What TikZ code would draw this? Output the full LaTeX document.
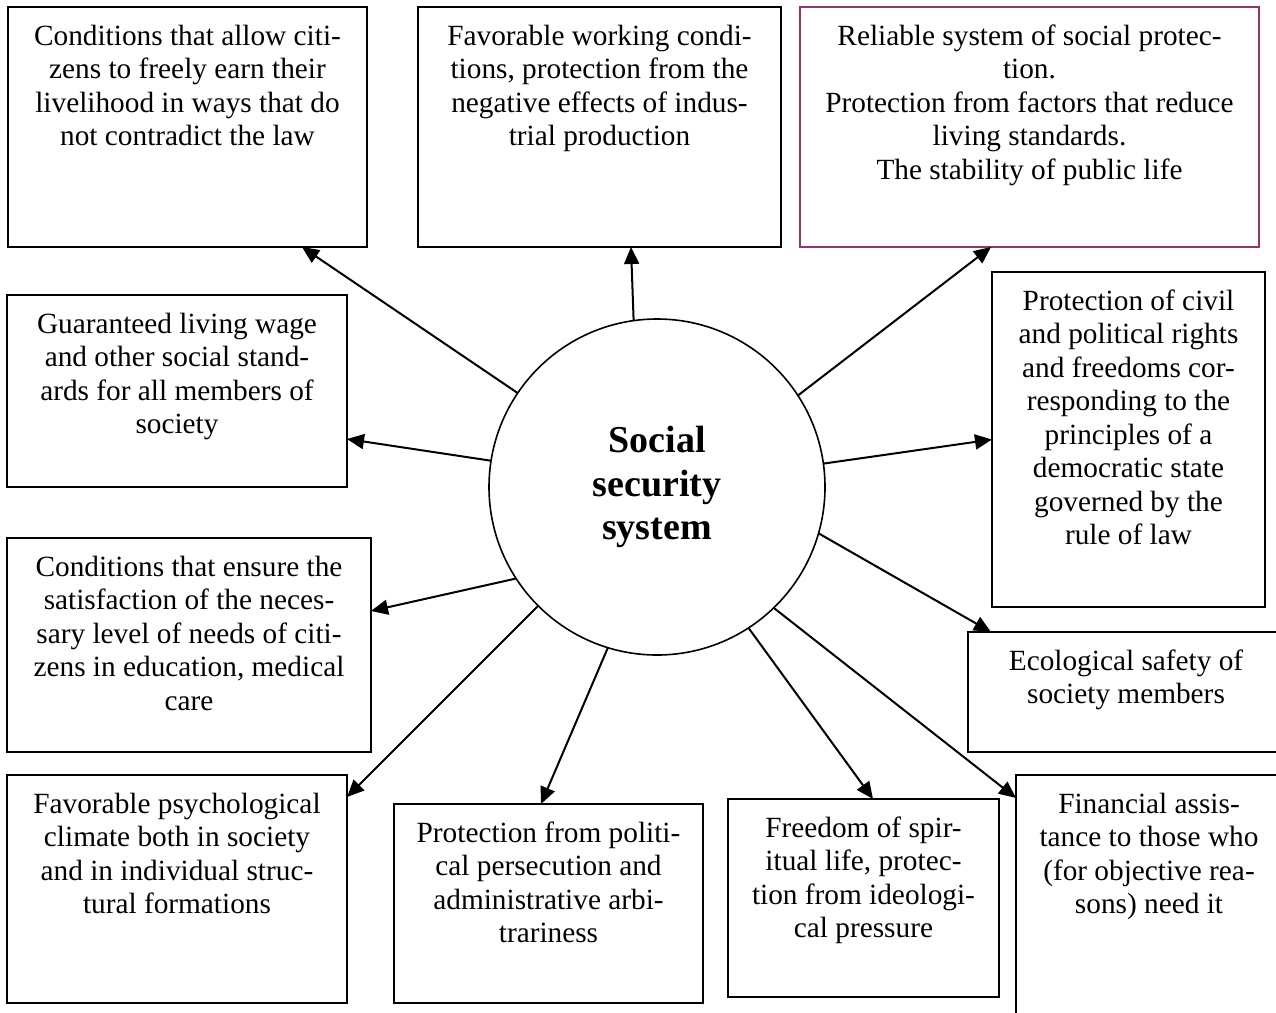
\documentclass[tikz,border=0pt]{standalone}
\usepackage{fontspec}
\setmainfont{Liberation Serif}
\usetikzlibrary{arrows.meta,calc}
\definecolor{SecPlum}{HTML}{993366}
\newcommand{\secbox}[3]{\parbox[c][#2][t]{#1}{\centering\rule{0pt}{38pt}#3}}

\begin{document}
\begin{tikzpicture}[x=1pt,y=-1pt,
    cellbox/.style={draw,line width=1.8pt,inner sep=0pt,outer sep=0pt,
      anchor=north west,font=\fontsize{29.3}{33.5}\selectfont},
    arr/.style={-{Triangle[length=17pt,width=15pt]},line width=2pt}]
  \clip (0,0) rectangle (1276,1012);
  \fill[white] (0,0) rectangle (1276,1012);

  \node[circle,draw,line width=1.6pt,minimum size=336pt,inner sep=0pt,
    outer sep=0pt,align=center,font=\bfseries\fontsize{38}{43.5}\selectfont]
    (hub) at (657,487) {Social\\security\\system};

  \node[cellbox] (b1) at (8,7) {\secbox{359pt}{240pt}{Conditions that allow citi-\\
    zens to freely earn their\\livelihood in ways that do\\not contradict the law}};
  \node[cellbox] (b2) at (418,7) {\secbox{363pt}{240pt}{Favorable working condi-\\
    tions, protection from the\\negative effects of indus-\\trial production}};
  \node[cellbox,draw=SecPlum] (b3) at (800,7) {\secbox{459pt}{240pt}{Reliable system of social protec-\\
    tion.\\Protection from factors that reduce\\living standards.\\The stability of public life}};
  \node[cellbox] (b4) at (7,295) {\secbox{340pt}{192pt}{Guaranteed living wage\\
    and other social stand-\\ards for all members of\\society}};
  \node[cellbox] (b5) at (992,272) {\secbox{273pt}{335pt}{Protection of civil\\
    and political rights\\and freedoms cor-\\responding to the\\principles of a\\
    democratic state\\governed by the\\rule of law}};
  \node[cellbox] (b6) at (7,538) {\secbox{364pt}{214pt}{Conditions that ensure the\\
    satisfaction of the neces-\\sary level of needs of citi-\\zens in education, medical\\care}};
  \node[cellbox] (b7) at (968,632) {\secbox{316pt}{120pt}{Ecological safety of\\
    society members}};
  \node[cellbox] (b8) at (7,775) {\secbox{340pt}{228pt}{Favorable psychological\\
    climate both in society\\and in individual struc-\\tural formations}};
  \node[cellbox] (b9) at (394,804) {\secbox{309pt}{199pt}{Protection from politi-\\
    cal persecution and\\administrative arbi-\\trariness}};
  \node[cellbox] (b10) at (728,799) {\secbox{271pt}{198pt}{Freedom of spir-\\
    itual life, protec-\\tion from ideologi-\\cal pressure}};
  \node[cellbox] (b11) at (1016,775) {\secbox{266pt}{260pt}{Financial assis-\\
    tance to those who\\(for objective rea-\\sons) need it}};

  \draw[arr] (hub.146.6) -- ([xshift=114.5pt]b1.south);
  \draw[arr] (hub.98.5) -- ([xshift=31.5pt]b2.south);
  \draw[arr] (hub.33.6) -- ([xshift=-38.5pt]b3.south);
  \draw[arr] (hub.171.9) -- ([yshift=-48pt]b4.east);
  \draw[arr] (hub.8.1) -- (b5.west);
  \draw[arr] (hub.213.5) -- ([yshift=34pt]b6.east);
  \draw[arr] (hub.-16) -- ([xshift=23pt]b7.north west);
  \draw[arr] (hub.225.2) -- ([yshift=-22pt]b8.north east);
  \draw[arr] (hub.253.7) -- ([xshift=-7.5pt]b9.north);
  \draw[arr] (hub.303.7) -- ([xshift=9.5pt]b10.north);
  \draw[arr] (hub.314.8) -- ([yshift=-23pt]b11.north west);
\end{tikzpicture}
\end{document}
